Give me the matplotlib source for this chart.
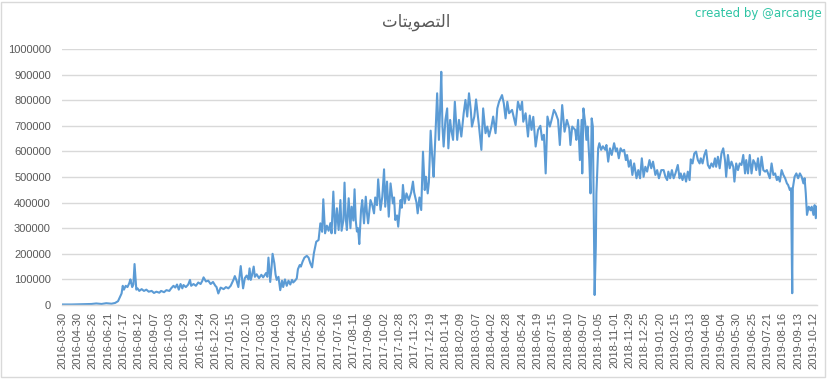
import matplotlib
matplotlib.use("Agg")
import matplotlib.pyplot as plt
from matplotlib.patches import Rectangle

# Arabic title "التصويتات" given as shaped presentation forms in visual order
title_text = "\uFE95\uFE8E\uFE98\uFEF3\uFEEE\uFEBC\uFE98\uFEDF\uFE8D"
credit_text = "created by @arcange"

# category labels (every 26th category is labelled)
tick_labels = [
    "2016-03-30", "2016-04-30", "2016-05-26", "2016-06-21", "2016-07-17", "2016-08-12",
    "2016-09-07", "2016-10-03", "2016-10-29", "2016-11-24", "2016-12-20", "2017-01-15",
    "2017-02-10", "2017-03-08", "2017-04-03", "2017-04-29", "2017-05-25", "2017-06-20",
    "2017-07-16", "2017-08-11", "2017-09-06", "2017-10-02", "2017-10-28", "2017-11-23",
    "2017-12-19", "2018-01-14", "2018-02-09", "2018-03-07", "2018-04-02", "2018-04-28",
    "2018-05-24", "2018-06-19", "2018-07-15", "2018-08-10", "2018-09-07", "2018-10-05",
    "2018-11-01", "2018-11-29", "2018-12-25", "2019-01-20", "2019-02-15", "2019-03-13",
    "2019-04-08", "2019-05-04", "2019-05-30", "2019-06-25", "2019-07-21", "2019-08-16",
    "2019-09-13", "2019-10-12",
]
label_step = 26
n_categories = 1281

# category index of each sampled point
day_index = [
    0, 16, 33, 50, 58, 67, 75, 84, 90, 95, 98, 101, 103, 105, 108, 111, 114, 116, 119, 121,
    123, 126, 128, 131, 135, 139, 143, 147, 152, 156, 160, 165, 168, 173, 177, 182, 185, 189,
    192, 195, 198, 201, 204, 206, 210, 214, 217, 219, 223, 227, 231, 235, 238, 240, 244, 248,
    252, 256, 260,
    262, 265, 269, 274, 278, 282, 286, 291, 293, 296, 299, 303, 307, 310, 313, 316, 318, 320,
    322, 325, 327, 330, 334, 338, 341, 346, 348, 350, 353, 355, 357, 360, 362, 364, 367, 370,
    373, 375, 378, 381, 384, 387, 390, 392, 395, 398, 400, 403, 405, 408, 411, 415, 418, 421,
    424, 427, 431, 435, 438, 441, 443, 446, 449, 452, 455, 457, 460, 463, 466, 469, 472, 474,
    477, 479, 481, 483, 486, 489, 491, 494, 496, 498, 500, 502, 504, 507, 509, 512,
    515, 517, 519, 523, 526, 529, 531, 534, 536, 540, 543, 546, 548, 551, 554, 557, 561, 563,
    565, 568, 570, 574, 576, 578, 581, 584, 588, 592, 595, 597, 599, 601, 603, 606, 609, 612,
    615, 617, 620, 622, 625, 628, 630, 633, 636, 639, 641, 643, 645, 647, 650, 653, 655, 658,
    660, 663, 666, 670, 673, 677, 681, 684, 687, 690, 693, 695, 699, 702, 707, 711, 714, 718,
    721, 724, 728, 731, 735, 738, 741, 746, 749, 752, 755, 758, 763, 769, 773, 777, 780,
    782, 786, 790, 793, 796, 799, 803, 807, 811, 814, 817, 820, 823, 827, 830, 834, 837, 841,
    844, 848, 852, 856, 860, 862, 865, 870, 872, 875, 878, 881, 882, 884, 887, 889, 891, 894,
    896, 898, 900, 902, 903, 905, 906, 909, 911, 914, 917, 921, 923, 926, 929, 932, 936, 939,
    941, 944, 947, 950, 953, 956, 958, 961, 964, 967, 970, 974, 977, 980, 983, 986, 989, 992,
    996, 999, 1002, 1006, 1009, 1012, 1016,
    1020, 1023, 1026, 1028, 1031, 1034, 1037, 1040, 1044, 1047, 1049, 1052, 1055, 1058, 1061,
    1064, 1066, 1069, 1072, 1075, 1078, 1081, 1083, 1086, 1089, 1092, 1095, 1098, 1101, 1104,
    1107, 1109, 1112, 1115, 1118, 1121, 1124, 1126, 1129, 1132, 1135, 1138, 1140, 1143, 1146,
    1149, 1152, 1155, 1158, 1160, 1163, 1166, 1169, 1172, 1175, 1177, 1180, 1183, 1186, 1189,
    1192, 1195, 1197, 1200, 1203, 1206, 1209, 1212, 1214, 1217, 1220, 1223, 1226, 1229, 1231,
    1234, 1236, 1238, 1239, 1242, 1245, 1248, 1251, 1254, 1257, 1259, 1261, 1263, 1266, 1269,
    1271, 1274, 1276, 1278, 1280,
]

# votes, in thousands
votes_k = [
    2, 2, 3, 4, 6, 4, 7, 5, 8, 15, 30, 45, 75, 60, 75, 70, 85, 100, 70, 80,
    160, 60, 65, 55, 62, 55, 60, 52, 55, 47, 52, 48, 55, 50, 58, 55, 65, 75,
    68, 80, 60, 82, 65, 78, 70, 80, 98, 75, 82, 75, 88, 82, 95, 108, 92, 95,
    82, 90, 75,
    70, 45, 68, 62, 70, 65, 75, 100, 113, 95, 70, 152, 65, 105, 115, 100, 143, 98,
    115, 150, 110, 120, 105, 118, 108, 125, 110, 185, 90, 140, 200, 163, 120, 98, 110, 58,
    95, 70, 100, 75, 95, 80, 98, 88, 95, 104, 140, 156, 150, 170, 185, 192, 185, 163,
    147, 202, 247, 254, 319, 286, 413, 280, 310, 290, 320, 280, 443, 280, 378, 293, 410, 290,
    330, 478, 340, 293, 417, 300, 384, 330, 452, 330, 287, 300, 238, 371, 410, 319,
    423, 360, 319, 410, 390, 358, 420, 390, 491, 371, 423, 530, 384, 482, 345, 475, 397, 420,
    332, 350, 306, 410, 380, 469, 397, 436, 410, 440, 482, 440, 420, 400, 358, 420, 371, 599,
    449, 501, 436, 480, 681, 566, 501, 658, 827, 645, 762, 911, 697, 619, 723, 768, 612, 723,
    684, 645, 794, 645, 723, 658, 749, 801, 736, 827, 762, 697, 736, 803, 697, 606, 768, 671,
    697, 658, 697, 736, 671, 768, 794, 820, 788, 729, 794, 749, 762, 703, 794, 762, 794,
    716, 749, 658, 740, 684, 735, 619, 684, 700, 645, 665, 514, 736, 697, 723, 762, 749, 723,
    625, 781, 677, 723, 690, 625, 697, 684, 645, 723, 566, 723, 514, 768, 710, 645, 697, 566,
    436, 729, 697, 254, 39, 228, 436, 612, 632, 606, 620, 606, 625, 560, 612, 586, 632, 600,
    612, 573, 612, 600, 606, 566, 586, 540, 566, 508, 553, 495, 527, 495, 573, 501, 540, 521,
    566, 534, 560, 508, 527, 495, 527,
    527, 501, 488, 521, 495, 527, 495, 514, 547, 495, 514, 488, 514, 482, 521,
    488, 569, 553, 592, 599, 566, 553, 573, 553, 586, 605, 547, 534, 553, 540,
    573, 540, 579, 534, 592, 612, 566, 501, 586, 534, 560, 540, 482, 553, 527,
    553, 547, 586, 514, 566, 514, 586, 514, 566, 553, 527, 573, 508, 579, 527,
    521, 527, 514, 495, 553, 508, 514, 488, 501, 482, 527, 508, 495, 475, 469,
    449, 456, 46, 456, 501, 514, 495, 514, 501, 475, 495, 436, 352, 384, 370,
    384, 352, 390, 339, 384,
]

W, H = 832, 379
fig = plt.figure(figsize=(W / 100, H / 100), dpi=100)
plt.rcParams['font.family'] = ['Liberation Sans', 'DejaVu Sans']

ax = fig.add_axes([62 / W, 1 - 305 / H, (817 - 62) / W, (305 - 49) / H])
ax.plot(day_index, [v * 1000 for v in votes_k], color='#5b9bd5', lw=1.5,
        solid_joinstyle='round')

ax.set_xlim(0, n_categories - 1)
ax.set_ylim(0, 1000000)
ax.set_yticks(range(0, 1000001, 100000))
ax.set_yticklabels([str(v) for v in range(0, 1000001, 100000)])
ax.set_xticks([i * label_step for i in range(len(tick_labels))])
ax.set_xticklabels(tick_labels, rotation=90)
ax.tick_params(axis='both', length=0, colors='#595959', labelsize=8)
ax.tick_params(axis='x', pad=5)
ax.tick_params(axis='y', pad=8)
ax.grid(axis='y', color='#d9d9d9', lw=1)
ax.set_axisbelow(True)
for s in ['top', 'right', 'left']:
    ax.spines[s].set_visible(False)
ax.spines['bottom'].set_color('#d9d9d9')
ax.spines['bottom'].set_linewidth(1)

fig.text(416 / W, 1 - 22 / H, title_text, ha='center', va='center', fontsize=12,
         color='#595959', family=['DejaVu Sans'])
fig.text(822 / W, 1 - 14 / H, credit_text, ha='right', va='center', fontsize=8.5,
         color='#2ec4a4', family=['DejaVu Sans'])

fig.patches.append(Rectangle((1 / W, 2 / H), 824 / W, 375 / H, transform=fig.transFigure,
                             fill=False, edgecolor='#d9d9d9', lw=1))

fig.savefig('out.png', dpi=100)
